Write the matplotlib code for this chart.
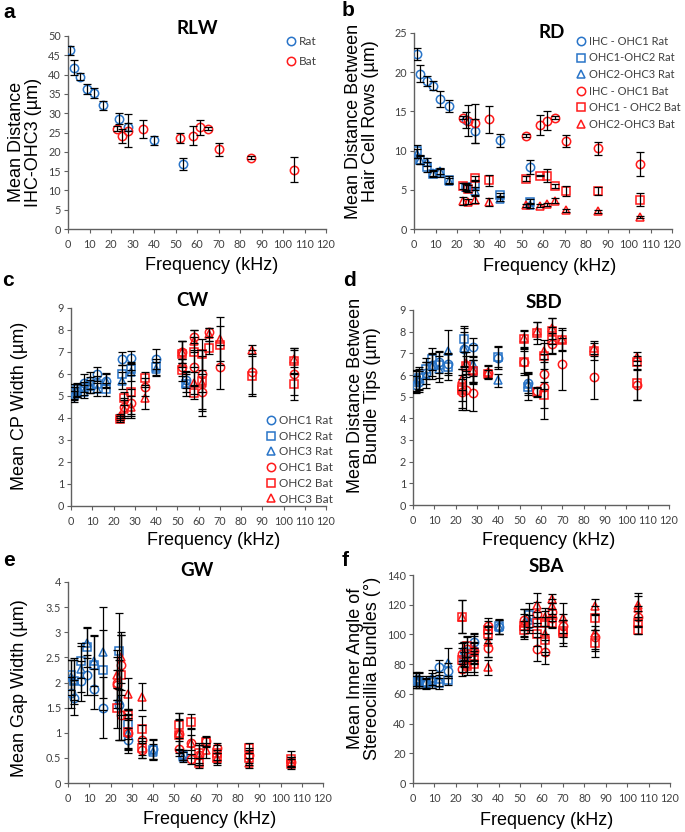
import matplotlib
matplotlib.use("Agg")
import matplotlib.pyplot as plt
from matplotlib.lines import Line2D

# ---------------- data ----------------
rat_freq = [1.2, 2.8, 6, 9, 12, 16.3, 24, 28.3, 40, 54]

# panel a: RLW
a_rat_x = [1, 2.6, 5.7, 8.8, 11.9, 16.3, 23.8, 27.9, 40, 53.7]
a_rat_y = [46.3, 41.8, 39.5, 36.3, 35.3, 32.0, 28.6, 26.4, 23.0, 16.8]
a_rat_err = [1.2, 2.0, 0.8, 1.3, 1.3, 1.2, 1.4, 1.0, 1.2, 1.5]
a_bat_x = [22.8, 24.9, 28, 35, 52.2, 58, 61.3, 64.9, 70, 85, 105]
a_bat_y = [26.0, 24.0, 25.5, 26.0, 23.7, 24.2, 26.3, 26.0, 20.6, 18.5, 15.4]
a_bat_err = [0.6, 1.8, 4.2, 2.3, 1.3, 2.5, 2.0, 0.3, 1.6, 0.4, 3.2]

# panel b: RD
b_bat_x = [23, 25, 28.3, 35, 52.2, 58.4, 61.8, 65.5, 70.5, 85.4, 105.3]
b_ihc_rat_y = [22.3, 19.8, 18.9, 18.3, 16.6, 15.7, 13.9, 12.5, 11.3, 7.9]
b_ihc_rat_err = [0.8, 1.1, 0.6, 0.6, 1.0, 0.8, 1.0, 1.5, 0.8, 0.9]
b_o12_rat_y = [9.9, 8.85, 7.9, 7.05, 7.1, 6.3, 5.4, 5.55, 4.35, 3.5]
b_o12_rat_err = [0.8, 0.6, 0.6, 0.4, 0.5, 0.4, 0.4, 0.6, 0.3, 0.3]
b_o23_rat_y = [9.6, 8.8, 8.5, 7.1, 7.4, 6.1, 5.4, 4.9, 3.85, 3.0]
b_o23_rat_err = [0.6, 0.5, 0.5, 0.4, 0.4, 0.4, 0.5, 0.5, 0.3, 0.3]
b_ihc_bat_y = [14.2, 13.8, 13.5, 14.0, 11.9, 13.3, 13.8, 14.2, 11.2, 10.3, 8.3]
b_ihc_bat_err = [0.2, 2.0, 2.5, 1.7, 0.2, 1.3, 1.2, 0.2, 0.8, 0.8, 1.5]
b_o12_bat_y = [5.5, 5.15, 6.5, 6.2, 6.4, 6.8, 6.8, 5.5, 4.85, 4.85, 3.75]
b_o12_bat_err = [0.4, 0.4, 0.3, 0.7, 0.3, 0.1, 0.8, 0.3, 0.6, 0.5, 0.8]
b_o23_bat_y = [3.55, 3.5, 3.75, 3.45, 3.0, 2.95, 3.15, 3.6, 2.4, 2.25, 1.55]
b_o23_bat_err = [0.5, 0.3, 0.4, 0.5, 0.2, 0.2, 0.2, 0.3, 0.2, 0.2, 0.1]

# panel c: CW
c_o1_rat_y = [5.0, 5.25, 5.6, 5.7, 6.0, 5.7, 6.7, 6.75, 6.7, 5.75]
c_o1_rat_err = [0.25, 0.3, 0.4, 0.4, 0.3, 0.35, 0.3, 0.3, 0.45, 0.4]
c_o2_rat_y = [5.2, 5.3, 5.35, 5.5, 5.55, 5.3, 6.0, 6.25, 6.3, 5.55]
c_o2_rat_err = [0.35, 0.3, 0.3, 0.35, 0.35, 0.3, 0.4, 0.3, 0.4, 0.55]
c_o3_rat_y = [5.1, 5.25, 5.2, 5.45, 5.3, 5.7, 5.7, 6.1, 6.25, 5.6]
c_o3_rat_err = [0.3, 0.3, 0.3, 0.3, 0.3, 0.3, 0.4, 0.4, 0.3, 0.4]
c_o1_bat_x = [23, 25, 28.3, 35, 52, 52, 58, 58, 61.5, 61.5, 65, 70, 85, 105]
c_o1_bat_y = [4.0, 4.5, 4.7, 5.4, 7.0, 6.3, 7.7, 6.3, 6.0, 5.2, 7.9, 6.3, 6.1, 6.0]
c_o1_bat_err = [0.1, 0.4, 0.6, 0.4, 0.5, 0.4, 0.3, 0.8, 0.8, 0.8, 0.2, 1.0, 1.0, 1.2]
c_o2_bat_x = [23, 25, 28.3, 35, 52, 52, 58, 58, 61.5, 61.5, 65, 70, 85, 105, 105]
c_o2_bat_y = [3.95, 4.9, 5.2, 5.8, 6.9, 6.2, 7.0, 5.15, 6.9, 5.7, 7.2, 7.3, 5.9, 6.6, 5.55]
c_o2_bat_err = [0.15, 0.3, 1.0, 0.3, 0.6, 0.5, 0.7, 0.3, 0.7, 1.4, 0.3, 0.9, 0.9, 0.6, 0.5]
c_o3_bat_x = [23, 25, 28.3, 35, 52, 58, 58, 61.5, 65, 70, 85, 105]
c_o3_bat_y = [4.1, 4.4, 4.5, 4.9, 7.0, 7.5, 5.6, 5.6, 7.8, 7.6, 7.1, 6.7]
c_o3_bat_err = [0.1, 0.4, 0.5, 0.5, 0.5, 0.5, 0.5, 1.5, 0.3, 1.0, 0.2, 0.4]

# panel d: SBD
d_o1_rat_y = [5.55, 5.7, 6.1, 6.45, 6.6, 6.5, 7.2, 7.3, 6.8, 5.65]
d_o1_rat_err = [0.4, 0.5, 0.5, 0.5, 0.5, 0.5, 0.8, 0.4, 0.5, 0.5]
d_o2_rat_y = [5.75, 5.85, 6.3, 6.75, 6.45, 6.35, 7.65, 6.2, 6.85, 5.45]
d_o2_rat_err = [0.5, 0.5, 0.5, 0.5, 0.6, 0.6, 0.6, 0.5, 0.5, 0.6]
d_o3_rat_y = [5.7, 5.8, 6.0, 6.4, 6.3, 7.1, 7.25, 6.5, 5.75, 5.6]
d_o3_rat_err = [0.5, 0.5, 0.6, 0.6, 0.6, 1.0, 0.9, 0.9, 0.3, 0.5]
d_o1_bat_x = [23, 25, 28.3, 35, 52, 58, 61.5, 61.5, 65, 70, 85, 105]
d_o1_bat_y = [5.2, 5.3, 5.15, 6.1, 6.6, 5.25, 6.05, 5.45, 7.45, 6.5, 5.9, 5.55]
d_o1_bat_err = [0.8, 0.9, 0.8, 0.3, 0.6, 0.2, 0.7, 1.5, 0.5, 1.2, 1.0, 0.7]
d_o2_bat_x = [23, 23, 25, 28.3, 35, 52, 52, 58, 58, 61.5, 61.5, 65, 65, 70, 85, 105, 105]
d_o2_bat_y = [5.4, 5.3, 6.4, 6.2, 6.05, 7.65, 6.6, 7.95, 5.2, 6.9, 5.1, 8.05, 7.6, 7.6, 7.1, 6.6, 5.65]
d_o2_bat_err = [0.9, 0.5, 0.5, 0.5, 0.2, 0.4, 0.5, 0.5, 0.2, 0.6, 0.6, 0.6, 0.6, 0.5, 0.4, 0.3, 0.8]
d_o3_bat_x = [23, 25, 28.3, 35, 52, 58, 61.5, 65, 70, 85, 105]
d_o3_bat_y = [5.8, 6.55, 6.25, 6.15, 7.7, 8.05, 7.1, 8.15, 7.65, 7.25, 6.85]
d_o3_bat_err = [0.5, 0.5, 0.6, 0.3, 0.4, 0.4, 0.5, 0.5, 0.5, 0.3, 0.2]

# panel e: GW
e_o1_rat_y = [1.8, 1.7, 2.03, 2.15, 1.87, 1.5, 1.55, 0.85, 0.68, 0.55]
e_o1_rat_err = [0.3, 0.35, 0.4, 0.4, 0.4, 0.6, 0.7, 0.25, 0.2, 0.1]
e_o2_rat_y = [2.15, 2.03, 2.43, 2.7, 2.35, 2.25, 2.63, 1.17, 0.65, 0.55]
e_o2_rat_err = [0.3, 0.45, 0.35, 0.4, 0.6, 0.8, 0.75, 0.3, 0.2, 0.1]
e_o3_rat_y = [2.1, 2.05, 2.27, 2.78, 2.43, 2.6, 1.65, 1.0, 0.62, 0.52]
e_o3_rat_err = [0.35, 0.4, 0.45, 0.3, 0.5, 0.9, 0.8, 0.35, 0.15, 0.1]
e_o1_bat_x = [23, 23, 25, 25, 28.3, 35, 35, 52, 52, 58, 58, 61.5, 65, 70, 85, 105]
e_o1_bat_y = [2.0, 1.95, 2.35, 1.35, 1.0, 0.85, 0.65, 0.97, 0.68, 0.8, 0.48, 0.55, 0.83, 0.7, 0.55, 0.42]
e_o1_bat_err = [0.5, 0.3, 0.6, 0.5, 0.3, 0.3, 0.15, 0.3, 0.15, 0.15, 0.1, 0.2, 0.1, 0.1, 0.15, 0.1]
e_o2_bat_x = [23, 25, 28.3, 28.3, 35, 35, 52, 52, 58, 61.5, 61.5, 65, 70, 70, 85, 85, 105, 105]
e_o2_bat_y = [1.5, 2.15, 1.35, 1.02, 1.08, 0.7, 1.15, 0.95, 1.22, 0.6, 0.4, 0.82, 0.6, 0.5, 0.7, 0.5, 0.48, 0.38]
e_o2_bat_err = [0.4, 0.8, 0.1, 0.35, 0.25, 0.2, 0.25, 0.3, 0.15, 0.2, 0.1, 0.1, 0.15, 0.1, 0.1, 0.15, 0.15, 0.1]
e_o3_bat_x = [23, 25, 28.3, 35, 52, 58, 61.5, 65, 70, 85, 105]
e_o3_bat_y = [2.15, 2.5, 1.78, 1.72, 1.0, 0.8, 0.55, 0.65, 0.5, 0.4, 0.42]
e_o3_bat_err = [0.5, 0.5, 0.3, 0.27, 0.4, 0.3, 0.2, 0.15, 0.15, 0.1, 0.1]

# panel f: SBA
f_o1_rat_y = [69, 69, 67, 69, 78, 75.5, 89, 95, 105, 107]
f_o1_rat_err = [5, 5, 4, 5, 5, 5, 6, 6, 5, 6]
f_o2_rat_y = [68, 68, 67, 68, 67, 69, 83, 88, 105.5, 113]
f_o2_rat_err = [4, 4, 3, 4, 4, 3, 5, 6, 5, 8]
f_o3_rat_y = [70, 70, 68, 71, 70, 81, 87, 90, 105, 110]
f_o3_rat_err = [5, 5, 4, 5, 5, 10, 8, 10, 5, 7]
f_o1_bat_x = [23, 23, 25, 28.3, 35, 35, 52, 58, 58, 61.5, 65, 65, 70, 85, 105]
f_o1_bat_y = [87, 77, 90, 89, 106, 91, 110, 114, 90, 88, 115, 111, 106, 98, 112]
f_o1_bat_err = [7, 5, 8, 6, 5, 6, 7, 8, 8, 8, 6, 6, 8, 8, 7]
f_o2_bat_x = [23, 23, 25, 25, 28.3, 28.3, 35, 35, 52, 52, 58, 58, 61.5, 61.5, 65, 70, 70, 85, 85, 105, 105]
f_o2_bat_y = [112, 83, 92, 79, 83, 80, 103, 100, 106, 103, 108, 100, 108, 96, 108, 102, 101, 111, 94, 108, 103]
f_o2_bat_err = [11, 8, 7, 6, 8, 7, 6, 6, 8, 6, 7, 8, 8, 10, 4, 8, 9, 8, 9, 8, 3]
f_o3_bat_x = [23, 25, 28.3, 35, 35, 52, 58, 61.5, 61.5, 65, 65, 70, 85, 85, 105, 105]
f_o3_bat_y = [112, 80, 90, 95, 78, 108, 120, 112, 100, 124, 119, 111, 119, 101, 120, 118]
f_o3_bat_err = [11, 5, 9, 10, 5, 9, 8, 6, 12, 3, 5, 10, 5, 12, 8, 8]

# ---------------- style ----------------
BLUE = "#2874C8"
RED = "#FF1A1A"
AXC = "#606060"
TICKC = "#404040"
TICKF = "Lato"
LABF = "Liberation Sans"
W, H = 685, 832

fig = plt.figure(figsize=(W / 100, H / 100), dpi=100)


def px_axes(l, r, t, b):
    return fig.add_axes([l / W, 1 - b / H, (r - l) / W, (b - t) / H])


def style(ax, ymax, ystep):
    ax.set_xlim(0, 120)
    ax.set_ylim(0, ymax)
    ax.set_xticks(range(0, 121, 10))
    yt = []
    v = 0
    while v <= ymax + 1e-9:
        yt.append(v)
        v += ystep
    ax.set_yticks(yt)
    ax.set_yticklabels([("%g" % t) for t in yt])
    for s in ["top", "right"]:
        ax.spines[s].set_visible(False)
    for s in ["left", "bottom"]:
        ax.spines[s].set_color(AXC)
        ax.spines[s].set_linewidth(1.0)
    ax.tick_params(axis="both", direction="out", length=3, width=0.8,
                   color=AXC, labelsize=7.8, labelcolor=TICKC, pad=2)
    ax.tick_params(axis="x", pad=4)
    for lab in ax.get_xticklabels() + ax.get_yticklabels():
        lab.set_family(TICKF)
    ax.patch.set_alpha(0)


def series(ax, x, y, err, marker, color):
    ax.plot(x, y, linestyle="none", marker=marker, markersize=6 if marker != "^" else 5.5,
            markerfacecolor="none", markeredgecolor=color, markeredgewidth=1.1, zorder=3)
    ax.errorbar(x, y, yerr=err, fmt="none", ecolor="black", elinewidth=0.9,
                capsize=2.6, capthick=0.9, zorder=4)


def labels(ax, ylab, ylx, yly, xlx, xly, title, tx, ty, letter, lx, ly):
    ax.set_ylabel(ylab, fontsize=13, family=LABF, linespacing=1.0)
    ax.yaxis.set_label_coords(ylx, yly)
    ax.yaxis.label.set_va("center")
    ax.set_xlabel("Frequency (kHz)", fontsize=13, family=LABF)
    ax.xaxis.set_label_coords(xlx, xly)
    ax.xaxis.label.set_va("center")
    fig.text(tx / W, 1 - ty / H, title, fontsize=13.5, fontweight="bold",
             family=TICKF, ha="center", va="center")
    fig.text(lx / W, 1 - ly / H, letter, fontsize=15, fontweight="bold",
             family=LABF, ha="left", va="center")


def legend(ax, entries, x, y, fs=8.5, spacing=0.55):
    handles = [Line2D([], [], linestyle="none", marker=m, markersize=6 if m != "^" else 5.5,
                      markerfacecolor="none", markeredgecolor=c, markeredgewidth=1.1)
               for (m, c, _) in entries]
    labs = [l for (_, _, l) in entries]
    leg = ax.legend(handles, labs, loc="upper left", bbox_to_anchor=(x, y),
                    frameon=False, fontsize=fs, handlelength=0.8, handletextpad=0.3,
                    labelspacing=spacing, borderaxespad=0, borderpad=0)
    for t in leg.get_texts():
        t.set_family(TICKF)
        t.set_color(TICKC)


# ---- panel a ----
ax = px_axes(68, 326, 36, 229)
style(ax, 50, 5)
series(ax, a_rat_x, a_rat_y, a_rat_err, "o", BLUE)
series(ax, a_bat_x, a_bat_y, a_bat_err, "o", RED)
legend(ax, [("o", BLUE, "Rat"), ("o", RED, "Bat")], 0.845, 1.0, fs=8.5, spacing=0.75)
labels(ax, "Mean Distance\nIHC-OHC3 (µm)", -0.165, 0.45, 0.557, -0.19,
       "RLW", 197, 28, "a", 3, 12)

# ---- panel b ----
ax = px_axes(414, 672, 33, 229)
style(ax, 25, 5)
series(ax, rat_freq, b_ihc_rat_y, b_ihc_rat_err, "o", BLUE)
series(ax, rat_freq, b_o12_rat_y, b_o12_rat_err, "s", BLUE)
series(ax, rat_freq, b_o23_rat_y, b_o23_rat_err, "^", BLUE)
series(ax, b_bat_x, b_ihc_bat_y, b_ihc_bat_err, "o", RED)
series(ax, b_bat_x, b_o12_bat_y, b_o12_bat_err, "s", RED)
series(ax, b_bat_x, b_o23_bat_y, b_o23_bat_err, "^", RED)
legend(ax, [("o", BLUE, "IHC - OHC1 Rat"), ("s", BLUE, "OHC1-OHC2 Rat"),
            ("^", BLUE, "OHC2-OHC3 Rat"), ("o", RED, "IHC - OHC1 Bat"),
            ("s", RED, "OHC1 - OHC2 Bat"), ("^", RED, "OHC2-OHC3 Bat")],
       0.63, 0.985, fs=8.0, spacing=0.5)
labels(ax, "Mean Distance Between\nHair Cell Rows (µm)", -0.2, 0.55, 0.527, -0.19,
       "RD", 552, 33, "b", 342, 10)

# ---- panel c ----
ax = px_axes(71, 326, 308, 506)
style(ax, 9, 1)
series(ax, rat_freq, c_o1_rat_y, c_o1_rat_err, "o", BLUE)
series(ax, rat_freq, c_o2_rat_y, c_o2_rat_err, "s", BLUE)
series(ax, rat_freq, c_o3_rat_y, c_o3_rat_err, "^", BLUE)
series(ax, c_o1_bat_x, c_o1_bat_y, c_o1_bat_err, "o", RED)
series(ax, c_o2_bat_x, c_o2_bat_y, c_o2_bat_err, "s", RED)
series(ax, c_o3_bat_x, c_o3_bat_y, c_o3_bat_err, "^", RED)
legend(ax, [("o", BLUE, "OHC1 Rat"), ("s", BLUE, "OHC2 Rat"), ("^", BLUE, "OHC3 Rat"),
            ("o", RED, "OHC1 Bat"), ("s", RED, "OHC2 Bat"), ("^", RED, "OHC3 Bat")],
       0.765, 0.46, fs=8.5, spacing=0.4)
labels(ax, "Mean CP Width (µm)", -0.2, 0.505, 0.56, -0.175,
       "CW", 192, 300, "c", 2, 281)

# ---- panel d ----
ax = px_axes(413, 669, 310, 505)
style(ax, 9, 1)
series(ax, rat_freq, d_o1_rat_y, d_o1_rat_err, "o", BLUE)
series(ax, rat_freq, d_o2_rat_y, d_o2_rat_err, "s", BLUE)
series(ax, rat_freq, d_o3_rat_y, d_o3_rat_err, "^", BLUE)
series(ax, d_o1_bat_x, d_o1_bat_y, d_o1_bat_err, "o", RED)
series(ax, d_o2_bat_x, d_o2_bat_y, d_o2_bat_err, "s", RED)
series(ax, d_o3_bat_x, d_o3_bat_y, d_o3_bat_err, "^", RED)
labels(ax, "Mean Distance Between\nBundle Tips (µm)", -0.19, 0.56, 0.53, -0.18,
       "SBD", 544, 302, "d", 343, 281)

# ---- panel e ----
ax = px_axes(68, 323, 582, 783)
style(ax, 4, 0.5)
series(ax, rat_freq, e_o1_rat_y, e_o1_rat_err, "o", BLUE)
series(ax, rat_freq, e_o2_rat_y, e_o2_rat_err, "s", BLUE)
series(ax, rat_freq, e_o3_rat_y, e_o3_rat_err, "^", BLUE)
series(ax, e_o1_bat_x, e_o1_bat_y, e_o1_bat_err, "o", RED)
series(ax, e_o2_bat_x, e_o2_bat_y, e_o2_bat_err, "s", RED)
series(ax, e_o3_bat_x, e_o3_bat_y, e_o3_bat_err, "^", RED)
labels(ax, "Mean Gap Width (µm)", -0.19, 0.47, 0.557, -0.184,
       "GW", 197, 570, "e", 3, 561)

# ---- panel f ----
ax = px_axes(413, 670, 575, 783)
style(ax, 140, 20)
series(ax, rat_freq, f_o1_rat_y, f_o1_rat_err, "o", BLUE)
series(ax, rat_freq, f_o2_rat_y, f_o2_rat_err, "s", BLUE)
series(ax, rat_freq, f_o3_rat_y, f_o3_rat_err, "^", BLUE)
series(ax, f_o1_bat_x, f_o1_bat_y, f_o1_bat_err, "o", RED)
series(ax, f_o2_bat_x, f_o2_bat_y, f_o2_bat_err, "s", RED)
series(ax, f_o3_bat_x, f_o3_bat_y, f_o3_bat_err, "^", RED)
labels(ax, "Mean Inner Angle of\nStereocillia Bundles (°)", -0.19, 0.55, 0.52, -0.178,
       "SBA", 546, 567, "f", 342, 561)

fig.savefig("out.png", dpi=100)
